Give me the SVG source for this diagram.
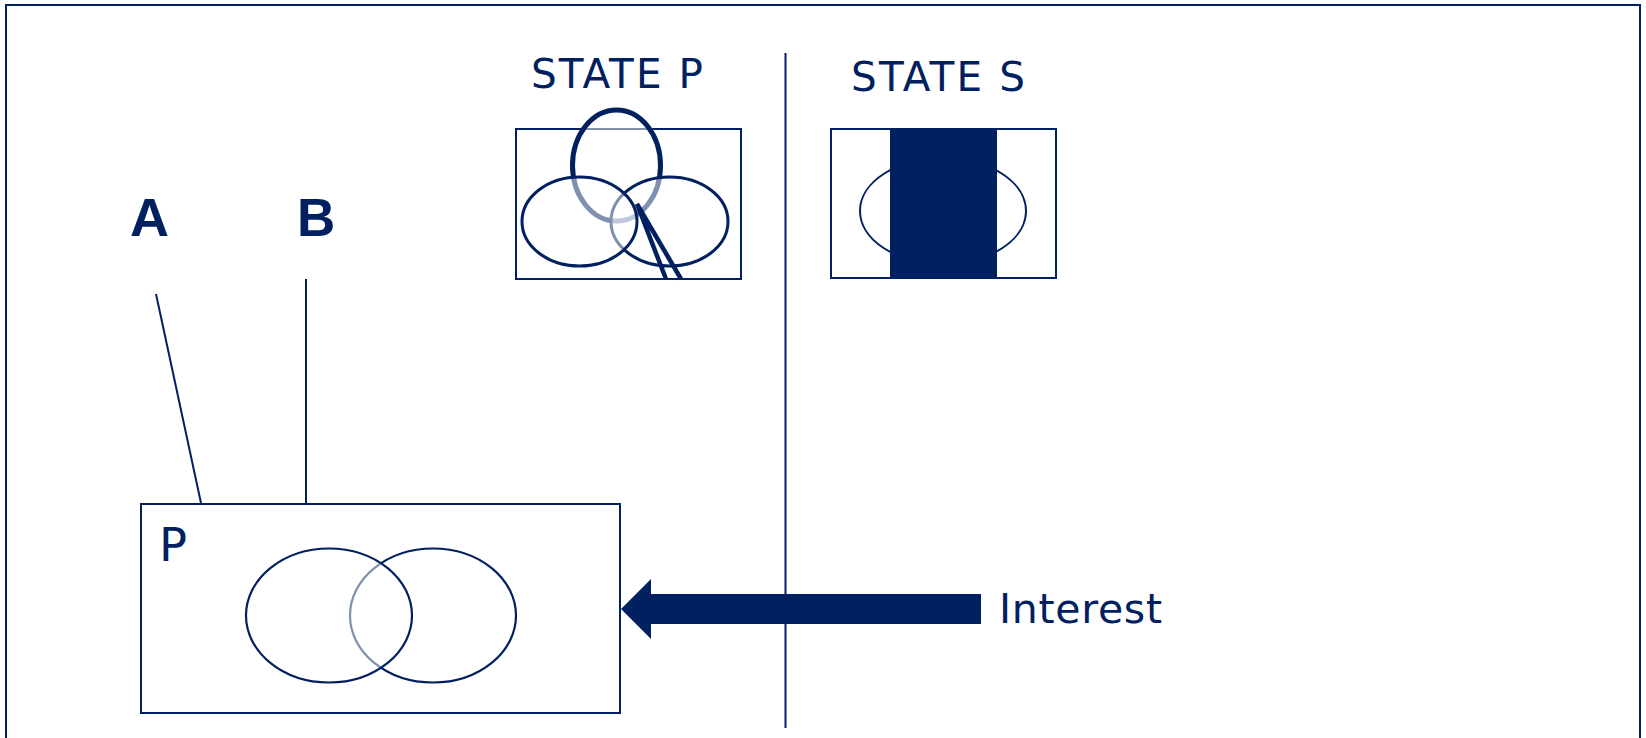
<svg xmlns="http://www.w3.org/2000/svg" width="1646" height="738" viewBox="0 0 1646 738">
<style>
.ln{fill:none;stroke:#002060;stroke-width:2}
.ov{fill:#ffffff;fill-opacity:0.5;stroke:#002060}
.t{fill:#002060;font-family:"DejaVu Sans","Liberation Sans",sans-serif}
.tb{fill:#002060;font-family:"Liberation Sans",Arial,sans-serif;font-weight:bold}
</style>
<rect width="1646" height="738" fill="#ffffff"/>
<rect id="frame" class="ln" x="6" y="5" width="1634" height="745"/>
<g id="divider"><line class="ln" x1="785.5" y1="53" x2="785.5" y2="728"/></g>
<g id="label-A"><text class="tb" x="130" y="236" font-size="54">A</text></g>
<g id="label-B"><text class="tb" x="297" y="236" font-size="53">B</text></g>
<g id="state-p">
<text class="t" x="531" y="88" font-size="40.5" textLength="172" lengthAdjust="spacing">STATE P</text>
<rect class="ln" x="516" y="129" width="225" height="150"/>
<ellipse class="ov" cx="616.5" cy="165.5" rx="44" ry="55.5" style="stroke-width:5"/>
<ellipse class="ov" cx="669.5" cy="221.5" rx="58.5" ry="44.5" style="stroke-width:3"/>
<ellipse class="ov" cx="579.5" cy="221.5" rx="57.5" ry="44.5" style="stroke-width:3"/>
<path d="M666,279 L637,204 L681,279" fill="none" stroke="#002060" stroke-width="4.5"/>
</g>
<g id="state-s">
<text class="t" x="851" y="91" font-size="40.5" textLength="174" lengthAdjust="spacing">STATE S</text>
<rect class="ln" x="831" y="129" width="225" height="149"/>
<ellipse class="ln" cx="943" cy="211" rx="83" ry="53"/>
<rect x="890" y="128" width="107" height="151" fill="#002060"/>
</g>
<g id="node-P">
<rect class="ln" x="141" y="504" width="479" height="209"/>
<text class="t" x="159" y="561" font-size="46.5">P</text>
<ellipse class="ov" cx="433" cy="615.5" rx="83" ry="67" style="stroke-width:2.2;fill:none"/>
<ellipse class="ov" cx="329" cy="615.5" rx="83" ry="67" style="stroke-width:2.2"/>
</g>
<g id="connectors">
<line class="ln" x1="156" y1="294" x2="201" y2="503"/>
<line class="ln" x1="306" y1="279" x2="306" y2="503"/>
<path d="M981,594 L651,594 L651,579 L621,609 L651,639 L651,624 L981,624 Z" fill="#002060"/>
</g>
<g id="label-interest"><text class="t" x="999" y="623" font-size="41" textLength="163" lengthAdjust="spacing">Interest</text></g>
</svg>
